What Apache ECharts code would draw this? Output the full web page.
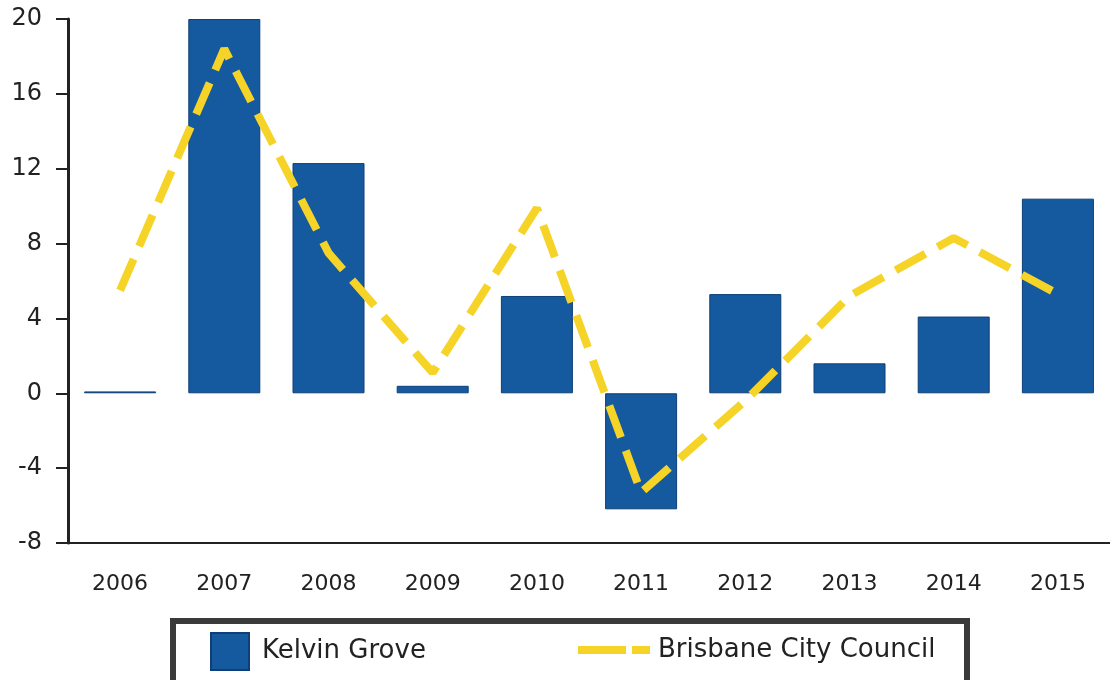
<!DOCTYPE html>
<html>
<head>
<meta charset="utf-8">
<script src="https://cdn.jsdelivr.net/npm/echarts@6/dist/echarts.min.js"></script>
<style>
  html, body { margin: 0; padding: 0; background: #fff; }
  #main { width: 1110px; height: 680px; }
</style>
</head>
<body>
<div id="main"></div>
<script>
var years = ['2006', '2007', '2008', '2009', '2010', '2011', '2012', '2013', '2014', '2015'];
var kelvinGrove = [0.1, 20, 12.3, 0.4, 5.2, -6.2, 5.3, 1.6, 4.1, 10.4];
var brisbane = [5.5, 18.4, 7.5, 1.1, 9.9, -5.3, -0.4, 5.2, 8.3, 5.3];

var chart = echarts.init(document.getElementById('main'));

var axisFont = 'DejaVu Sans';

var option = {
  backgroundColor: '#fff',
  animation: false,
  grid: {
    left: 68,
    top: 19,
    width: 1048,
    bottom: 137
  },
  xAxis: {
    type: 'category',
    data: years,
    axisLine: { onZero: false, lineStyle: { color: '#222', width: 2 } },
    axisTick: { alignWithLabel: true, length: 12, lineStyle: { color: '#222', width: 2 } },
    axisLabel: { color: '#222', fontSize: 22, fontFamily: axisFont, margin: 30 }
  },
  yAxis: {
    type: 'value',
    min: -8,
    max: 20,
    interval: 4,
    splitLine: { show: false },
    axisLine: { show: true, lineStyle: { color: '#222', width: 3 } },
    axisTick: { show: true, length: 12, lineStyle: { color: '#222', width: 2 } },
    axisLabel: { color: '#222', fontSize: 24, fontFamily: axisFont, margin: 26 }
  },
  legend: [{
    data: ['Kelvin Grove'],
    left: 210,
    top: 632,
    padding: 0,
    icon: 'rect',
    itemWidth: 38,
    itemHeight: 37,
    textStyle: { fontSize: 26, color: '#222', fontFamily: axisFont, padding: [0, 0, 0, 8] }
  }, {
    data: [{
      name: 'Brisbane City Council',
      icon: 'path://M0,0H48V8H0Z M54,0H72V8H54Z'
    }],
    left: 578,
    top: 637,
    padding: 0,
    itemWidth: 72,
    itemHeight: 8,
    textStyle: { fontSize: 26, color: '#222', fontFamily: axisFont, padding: [0, 0, 0, 3] }
  }],
  graphic: [{
    type: 'rect',
    shape: { x: 173, y: 621, width: 794, height: 72 },
    style: { fill: 'none', stroke: '#3a3a3a', lineWidth: 6 },
    z: 100
  }],
  series: [{
    name: 'Kelvin Grove',
    type: 'bar',
    data: kelvinGrove,
    barWidth: 72,
    itemStyle: { color: '#15599f', borderColor: '#0e3f78', borderWidth: 1 }
  }, {
    name: 'Brisbane City Council',
    type: 'line',
    data: brisbane,
    symbol: 'none',
    z: 5,
    lineStyle: { color: '#f6d327', width: 8, type: [34, 14] },
    itemStyle: { color: '#f6d327' }
  }]
};

chart.setOption(option);
</script>
</body>
</html>
